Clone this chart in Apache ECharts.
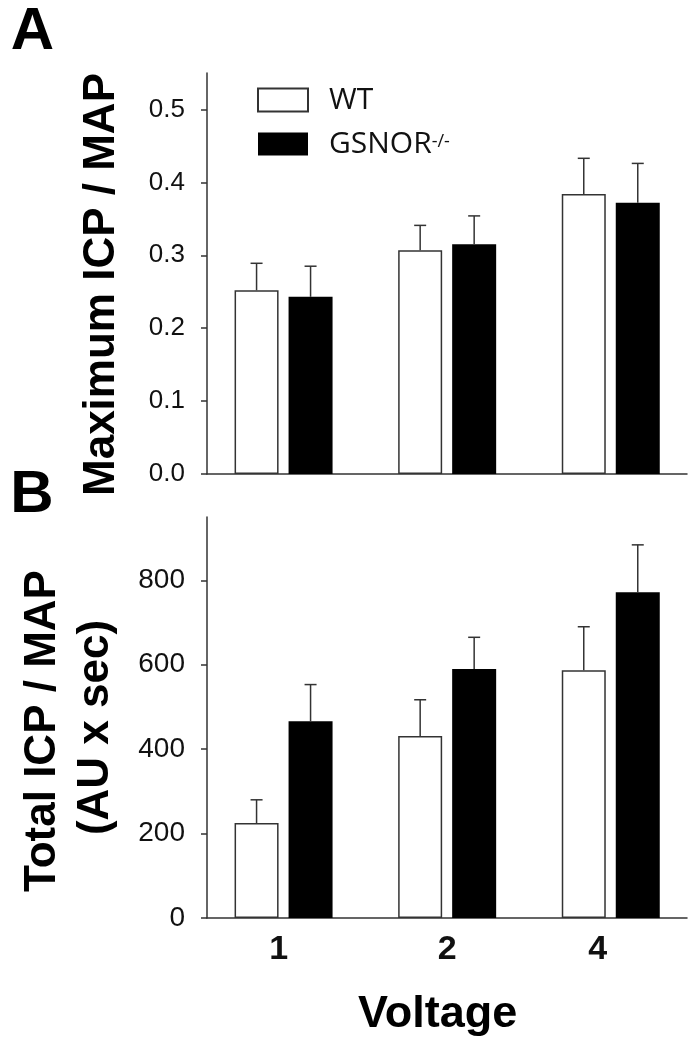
<!DOCTYPE html>
<html><head><meta charset="utf-8">
<script src="https://cdn.jsdelivr.net/npm/echarts@6/dist/echarts.min.js"></script>
<style>html,body{margin:0;padding:0;background:#fff}#c{width:700px;height:1049px}</style>
</head><body><div id="c"></div>
<script>
// ---- data ----
const categories = ['1', '2', '4'];
const seriesNames = ['WT', 'GSNOR-/-'];
const maxWT = [0.252, 0.307, 0.384];
const maxWTErr = [0.037, 0.034, 0.049];
const maxKO = [0.243, 0.315, 0.372];
const maxKOErr = [0.042, 0.039, 0.054];
const totWT = [225, 431, 587];
const totWTErr = [55, 86, 103];
const totKO = [466, 590, 772];
const totKOErr = [87, 75, 112];
const yTicksA = [0, 0.1, 0.2, 0.3, 0.4, 0.5];
const yTicksB = [0, 200, 400, 600, 800];

// ---- styles ----
const AX = '#333';
const BAR_W = 44, GAP_PX = 10;
const OFF = (BAR_W + GAP_PX) / 2;
const labelPos = [-0.03, 1.0, 1.92];

function pts(vals) { return vals.map((v, i) => [i, v]); }

function errSeries(id, vals, errs, gi, dx) {
  return {
    type: 'custom', name: id, xAxisIndex: gi, yAxisIndex: gi, z: 5, silent: true,
    data: vals.map((v, i) => [i, v, v + errs[i]]),
    encode: { x: 0, y: [1, 2] },
    renderItem(params, api) {
      const x = api.value(0);
      const lo = api.coord([x, api.value(1)]);
      const hi = api.coord([x, api.value(2)]);
      const cx = lo[0] + dx;
      const st = { stroke: AX, lineWidth: 1.5 };
      return { type: 'group', children: [
        { type: 'line', shape: { x1: cx, y1: lo[1], x2: cx, y2: hi[1] }, style: st },
        { type: 'line', shape: { x1: cx - 6, y1: hi[1], x2: cx + 6, y2: hi[1] }, style: st }
      ] };
    }
  };
}

function xAxis(gi, showLabels) {
  return {
    type: 'value', gridIndex: gi, min: -0.468, max: 2.466,
    axisLine: { show: true, onZero: false, lineStyle: { color: AX, width: 1.5 } },
    axisTick: { show: false }, splitLine: { show: false },
    axisLabel: showLabels ? {
      customValues: labelPos,
      formatter: v => categories[Math.max(0, Math.min(2, Math.round(v)))],
      fontSize: 34, fontWeight: 'bold', fontFamily: 'Liberation Sans', color: '#111', margin: 15
    } : { show: false }
  };
}

function yAxis(gi, max, ticks, fs, fmt) {
  return {
    type: 'value', gridIndex: gi, min: 0, max: max,
    axisLine: { show: true, onZero: false, lineStyle: { color: AX, width: 1.5 } },
    axisTick: { show: true, inside: false, length: 6, customValues: ticks, lineStyle: { color: AX, width: 1.5 } },
    axisLabel: { customValues: ticks, formatter: fmt, fontSize: fs, fontFamily: 'Liberation Sans', color: '#111', margin: 22 },
    splitLine: { show: false }
  };
}

const wtStyle = { color: '#fff', borderColor: AX, borderWidth: 1.5 };
const koStyle = { color: '#000' };

const titleFont = { fontSize: 44, fontWeight: 'bold', fontFamily: 'Liberation Sans', fill: '#000', align: 'center', verticalAlign: 'middle' };

const option = {
  animation: false,
  backgroundColor: '#fff',
  grid: [
    { left: 207, right: 13, top: 73, height: 401 },
    { left: 207, right: 13, top: 517, height: 401 }
  ],
  xAxis: [xAxis(0, false), xAxis(1, true)],
  yAxis: [
    yAxis(0, 0.55, yTicksA, 26, v => v.toFixed(1)),
    yAxis(1, 950, yTicksB, 28, v => String(v))
  ],
  legend: {
    data: seriesNames, left: 252, top: 80, orient: 'vertical',
    itemWidth: 50, itemHeight: 23, itemGap: 14, icon: 'rect', selectedMode: false,
    formatter: n => n === 'WT' ? '{m|WT}' : '{m|GSNOR}{s|-/-}',
    textStyle: { rich: {
      m: { fontSize: 30, fontFamily: 'Open Sans', color: '#111', padding: [0, 0, 0, 16], lineHeight: 23 },
      s: { fontSize: 18, fontFamily: 'Open Sans', color: '#111', verticalAlign: 'top', lineHeight: 10 }
    } }
  },
  series: [
    { type: 'bar', name: seriesNames[0], xAxisIndex: 0, yAxisIndex: 0, data: pts(maxWT), barWidth: BAR_W, barGap: (GAP_PX / BAR_W * 100) + '%', itemStyle: wtStyle },
    { type: 'bar', name: seriesNames[1], xAxisIndex: 0, yAxisIndex: 0, data: pts(maxKO), barWidth: BAR_W, barGap: (GAP_PX / BAR_W * 100) + '%', itemStyle: koStyle },
    { type: 'bar', name: seriesNames[0], xAxisIndex: 1, yAxisIndex: 1, data: pts(totWT), barWidth: BAR_W, barGap: (GAP_PX / BAR_W * 100) + '%', itemStyle: wtStyle },
    { type: 'bar', name: seriesNames[1], xAxisIndex: 1, yAxisIndex: 1, data: pts(totKO), barWidth: BAR_W, barGap: (GAP_PX / BAR_W * 100) + '%', itemStyle: koStyle },
    errSeries('errA_WT', maxWT, maxWTErr, 0, -OFF),
    errSeries('errA_KO', maxKO, maxKOErr, 0, OFF),
    errSeries('errB_WT', totWT, totWTErr, 1, -OFF),
    errSeries('errB_KO', totKO, totKOErr, 1, OFF)
  ],
  graphic: [
    { type: 'text', x: 32.5, y: 32, style: Object.assign({}, titleFont, { text: 'A', fontSize: 60 }) },
    { type: 'text', x: 32, y: 495, style: Object.assign({}, titleFont, { text: 'B', fontSize: 60 }) },
    { type: 'text', x: 102, y: 284.5, rotation: Math.PI / 2, style: Object.assign({}, titleFont, { text: 'Maximum ICP / MAP' }) },
    { type: 'text', x: 42.5, y: 731, rotation: Math.PI / 2, style: Object.assign({}, titleFont, { text: 'Total ICP / MAP' }) },
    { type: 'text', x: 96, y: 727.5, rotation: Math.PI / 2, style: Object.assign({}, titleFont, { text: '(AU x sec)' }) },
    { type: 'text', x: 437.7, y: 1015, style: Object.assign({}, titleFont, { text: 'Voltage', fontSize: 45 }) }
  ]
};

const chart = echarts.init(document.getElementById('c'), null, { renderer: 'canvas' });
chart.setOption(option);
</script>
</body></html>
